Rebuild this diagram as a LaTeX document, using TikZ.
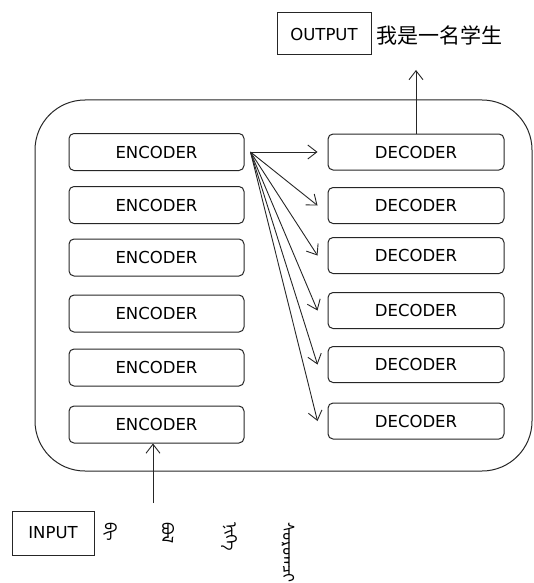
\documentclass[tikz,border=0pt]{standalone}
\usepackage{fontspec}
\setmainfont{DejaVu Sans}
\newfontfamily\cjk{Noto Sans CJK SC}
\newfontfamily\mong[Script=Mongolian]{Noto Sans Mongolian}
\usetikzlibrary{arrows.meta}
\begin{document}
\begin{tikzpicture}[x=1pt,y=-1pt,
  box/.style={draw=black!85,line width=1pt,rounded corners=5pt,font=\fontsize{16.5}{18}\selectfont,inner sep=0pt},
  enc/.style={box,minimum width=175pt,minimum height=37pt},
  dec/.style={box,minimum width=176pt,minimum height=36pt},
  sq/.style={draw=black!85,line width=1pt,font=\fontsize{16.5}{18}\selectfont,inner sep=0pt},
  arr/.style={draw=black!85,line width=0.9pt,-{Straight Barb[length=9pt,width=14pt]}},
  mg/.style={font=\mong\fontsize{16}{18}\selectfont,rotate=-90,anchor=west,inner sep=0pt}]
\useasboundingbox (0,0) rectangle (534,583);
% frame
\node[draw=black!85,line width=1pt,rounded corners=50pt,minimum width=497pt,minimum height=371pt,inner sep=0pt] (frame) at (283.5,285.5) {};
% encoders
\node[enc] (e1) at (156.5,152) {ENCODER};
\node[enc] (e2) at (156.5,205) {ENCODER};
\node[enc] (e3) at (156.5,257.5) {ENCODER};
\node[enc] (e4) at (156.5,313.5) {ENCODER};
\node[enc] (e5) at (156.5,367.5) {ENCODER};
\node[enc] (e6) at (156.5,424.5) {ENCODER};
% decoders
\node[dec] (d1) at (416,152) {DECODER};
\node[dec] (d2) at (416,205.5) {DECODER};
\node[dec] (d3) at (416,255.5) {DECODER};
\node[dec] (d4) at (416,310.5) {DECODER};
\node[dec] (d5) at (416,364.5) {DECODER};
\node[dec] (d6) at (416,421) {DECODER};
% fan arrows
\coordinate (s) at ([xshift=6pt]e1.east);
\foreach \i in {1,...,6}{
  \draw[arr] (s) -- ([xshift=-10pt]d\i.west);
}
% output
\node[sq,minimum width=94pt,minimum height=42pt] (out) at (324,34) {OUTPUT};
\node[anchor=west,inner sep=0pt,font=\cjk\fontsize{21}{23}\selectfont] (zh) at (376,35) {我是一名学生};
\coordinate (otip) at (416,70);
\draw[arr] (d1.north) -- (otip);
% input
\node[sq,minimum width=82pt,minimum height=44pt] (in) at (53,533) {INPUT};
\coordinate (itail) at (153,503);
\draw[arr] (itail) -- (itail |- e6.south);
\node[mg] (m1) at (110,522) {ᠪᠢ};
\node[mg] (m2) at (168,522) {ᠪᠣᠯ};
\node[mg] (m3) at (229,522) {ᠨᠢᠭᠡ};
\node[mg] (m4) at (288,522) {ᠰᠤᠷᠤᠭᠴᠢ};
\end{tikzpicture}
\end{document}
